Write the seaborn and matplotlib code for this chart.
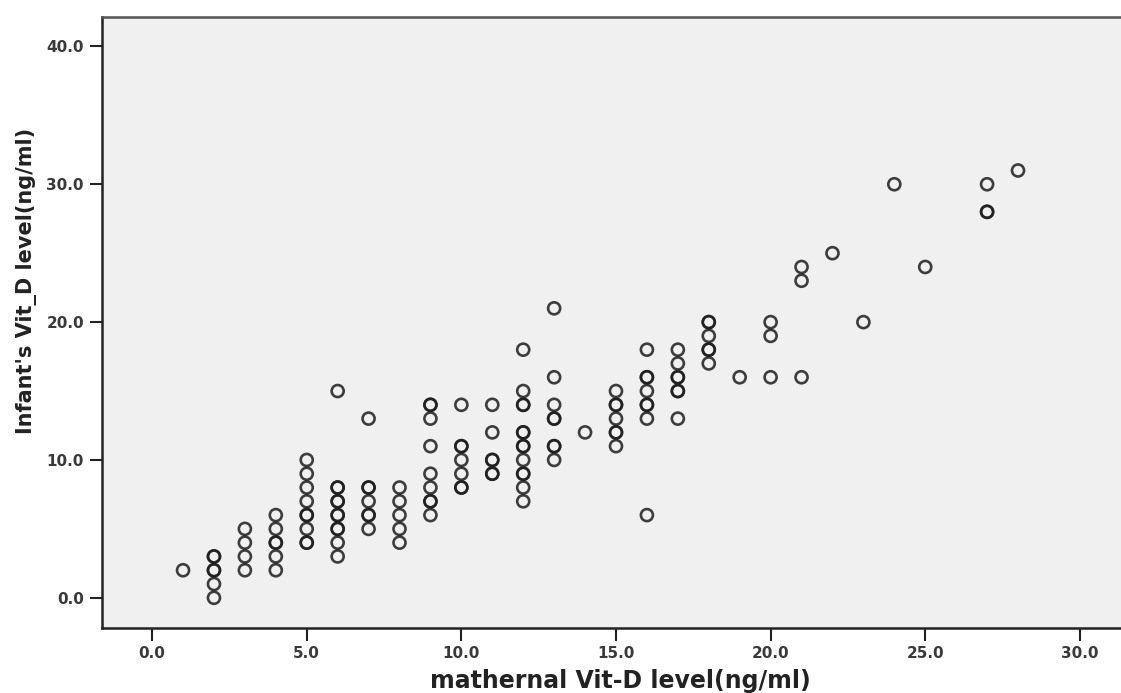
# Scatter of maternal vs infant vitamin D level

import pandas as pd
import seaborn as sns
import matplotlib.pyplot as plt

# values (duplicates where circles look darker)
maternal = [1,
            2, 2, 2, 2, 2, 2,
            3, 3, 3, 3,
            4, 4, 4, 4, 4, 4,
            5, 5, 5, 5, 5, 5, 5, 5, 5,
            6, 6, 6, 6, 6, 6, 6, 6, 6, 6, 6,
            7, 7, 7, 7, 7, 7, 7,
            8, 8, 8, 8, 8,
            9, 9, 9, 9, 9, 9, 9, 9, 9,
            10, 10, 10, 10, 10, 10, 10,
            11, 11, 11, 11, 11, 11,
            12, 12, 12, 12, 12, 12, 12, 12, 12, 12, 12, 12, 12,
            13, 13, 13, 13, 13, 13, 13, 13,
            14,
            15, 15, 15, 15, 15, 15, 15,
            16, 16, 16, 16, 16, 16, 16, 16,
            17, 17, 17, 17, 17, 17, 17,
            18, 18, 18, 18, 18, 18,
            19,
            20, 20, 20,
            21, 21, 21,
            22, 23, 24, 25,
            27, 27, 27,
            28]
infant = [2,
          3, 3, 2, 2, 1, 0,
          5, 4, 3, 2,
          6, 5, 4, 4, 3, 2,
          10, 9, 8, 7, 6, 6, 5, 4, 4,
          15, 8, 8, 7, 7, 6, 6, 5, 5, 4, 3,
          13, 8, 8, 7, 6, 6, 5,
          8, 7, 6, 5, 4,
          14, 14, 13, 11, 9, 8, 7, 7, 6,
          14, 11, 11, 10, 9, 8, 8,
          14, 12, 10, 10, 9, 9,
          18, 15, 14, 14, 12, 12, 11, 11, 10, 9, 9, 8, 7,
          21, 16, 14, 13, 13, 11, 11, 10,
          12,
          15, 14, 14, 13, 12, 12, 11,
          18, 16, 16, 15, 14, 14, 13, 6,
          18, 17, 16, 16, 15, 15, 13,
          20, 20, 19, 18, 18, 17,
          16,
          20, 19, 16,
          24, 23, 16,
          25, 20, 30, 24,
          30, 28, 28,
          31]

x_ticks = [0, 5, 10, 15, 20, 25, 30]
y_ticks = [0, 10, 20, 30, 40]

df = pd.DataFrame({'maternal': maternal, 'infant': infant})

sns.set_style('white')
plt.rcParams['font.family'] = ['DejaVu Sans']

fig = plt.figure(figsize=(11.21, 6.93), dpi=100)
ax = fig.add_axes([0.091, 0.094, 0.909, 0.882])
ax.set_facecolor('#f0f0f0')

sns.scatterplot(data=df, x='maternal', y='infant', ax=ax, marker='o', s=75,
                facecolor='none', edgecolor='#1e1e1e', linewidth=1.9, alpha=0.85)

ax.set_xlim(-1.62, 31.33)
ax.set_ylim(-2.18, 42.16)
ax.set_xticks(x_ticks)
ax.set_yticks(y_ticks)
ax.set_xticklabels([f'{v:.1f}' for v in x_ticks])
ax.set_yticklabels([f'{v:.1f}' for v in y_ticks])
ax.tick_params(axis='both', direction='out', length=9, width=1.5, color='#222222',
               labelsize=11, labelcolor='#3a3a3a', pad=4, bottom=True, left=True)
for lab in ax.get_xticklabels() + ax.get_yticklabels():
    lab.set_fontweight('bold')

for side in ['left', 'bottom', 'top']:
    ax.spines[side].set_visible(True)
    ax.spines[side].set_linewidth(1.8)
    ax.spines[side].set_color('#222222')
ax.spines['top'].set_color('#555555')
ax.spines['right'].set_visible(False)

ax.set_xlabel('mathernal Vit-D level(ng/ml)', fontsize=17, fontweight='bold',
              color='#222222', va='top')
ax.xaxis.set_label_coords(0.509, -0.068)
ax.set_ylabel("Infant's Vit_D level(ng/ml)", fontsize=15, fontweight='bold',
              color='#222222')
ax.yaxis.set_label_coords(-0.064, 0.568)

plt.savefig('out.png', dpi=100)
